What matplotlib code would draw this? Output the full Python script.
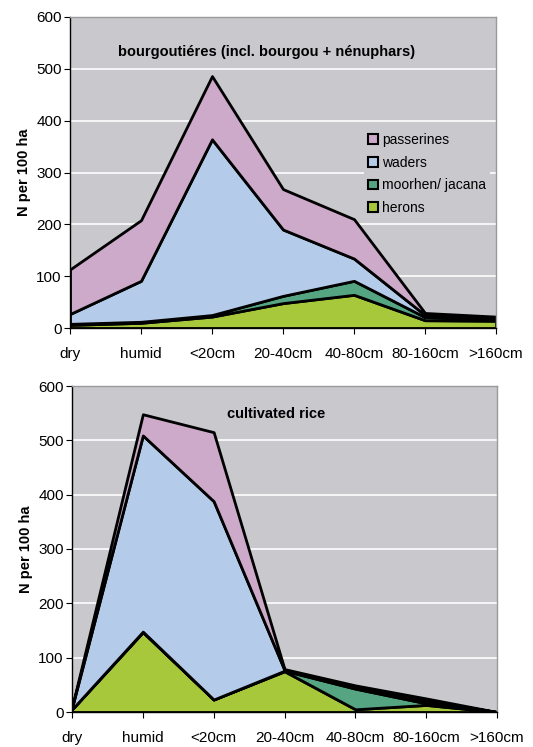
import matplotlib
matplotlib.use("Agg")
import matplotlib.pyplot as plt
from matplotlib.patches import Patch

plt.rcParams['font.family'] = ['Liberation Sans', 'DejaVu Sans']

categories = ["dry", "humid", "<20cm", "20-40cm", "40-80cm", "80-160cm", ">160cm"]
series_names = ["herons", "moorhen/ jacana", "waders", "passerines"]
colors = ["#A8C83C", "#55A582", "#B4CCEA", "#CDAACA"]

top_title = "bourgoutiéres (incl. bourgou + nénuphars)"
top_herons = [6, 10, 22, 48, 64, 15, 14]
top_moorhen = [2, 2, 3, 14, 27, 6, 4]
top_waders = [19, 79, 339, 128, 43, 4, 1]
top_passerines = [86, 117, 122, 78, 76, 4, 3]

bot_title = "cultivated rice"
bot_herons = [5, 147, 23, 75, 5, 13, 0]
bot_moorhen = [0, 1, 0, 1, 38, 3, 0]
bot_waders = [3, 361, 365, 1, 3, 5, 0]
bot_passerines = [1, 39, 127, 2, 3, 4, 0]

yticks = [0, 100, 200, 300, 400, 500, 600]

W, H = 533, 747
fig = plt.figure(figsize=(W / 100, H / 100), dpi=100)

def make_ax(left, top, right, bottom):
    return fig.add_axes([left / W, 1 - bottom / H, (right - left) / W, (bottom - top) / H])

def draw(ax, series, title, title_xy, legend=False):
    x = list(range(len(categories)))
    ax.set_facecolor("#C9C8CD")
    ax.stackplot(x, *series, colors=colors, edgecolor="black", linewidth=2.0,
                 zorder=2)
    ax.set_xlim(0, len(categories) - 1)
    ax.set_ylim(0, 600)
    ax.set_yticks(yticks)
    ax.set_yticklabels([str(v) for v in yticks], fontsize=11)
    ax.set_xticks(x)
    ax.set_xticklabels(categories, fontsize=11)
    ax.tick_params(axis="x", length=4, pad=10, direction="out")
    ax.tick_params(axis="y", length=4, pad=2, direction="out")
    ax.grid(axis="y", color="white", linewidth=1.2, zorder=1)
    ax.set_axisbelow(True)
    for s in ["top", "right"]:
        ax.spines[s].set_color("#9A9A9A")
        ax.spines[s].set_linewidth(1.0)
    for s in ["left", "bottom"]:
        ax.spines[s].set_color("black")
        ax.spines[s].set_linewidth(1.0)
    ax.set_ylabel("N per 100 ha", fontsize=10.5, fontweight="bold", labelpad=4)
    ax.text(title_xy[0], title_xy[1], title, transform=ax.transAxes,
            fontsize=10.5, fontweight="bold", ha="center", va="center")
    if legend:
        handles = [Patch(facecolor=c, edgecolor="black", linewidth=1.5)
                   for c in colors][::-1]
        leg = ax.legend(handles, series_names[::-1], loc="upper left",
                        bbox_to_anchor=(0.69, 0.64), frameon=True,
                        fontsize=10, handlelength=0.7, handleheight=0.7,
                        handletextpad=0.3, labelspacing=0.62, borderpad=0.3,
                        borderaxespad=0)
        leg.get_frame().set_facecolor("#C9C8CD")
        leg.get_frame().set_edgecolor("none")
        leg.get_frame().set_alpha(1)
        leg.set_zorder(5)

ax1 = make_ax(70, 17, 496, 328)
draw(ax1, [top_herons, top_moorhen, top_waders, top_passerines], top_title,
     (0.462, 0.888), legend=True)

ax2 = make_ax(72, 386, 497, 712)
draw(ax2, [bot_herons, bot_moorhen, bot_waders, bot_passerines], bot_title,
     (0.48, 0.914))

fig.savefig("out.png", dpi=100)
